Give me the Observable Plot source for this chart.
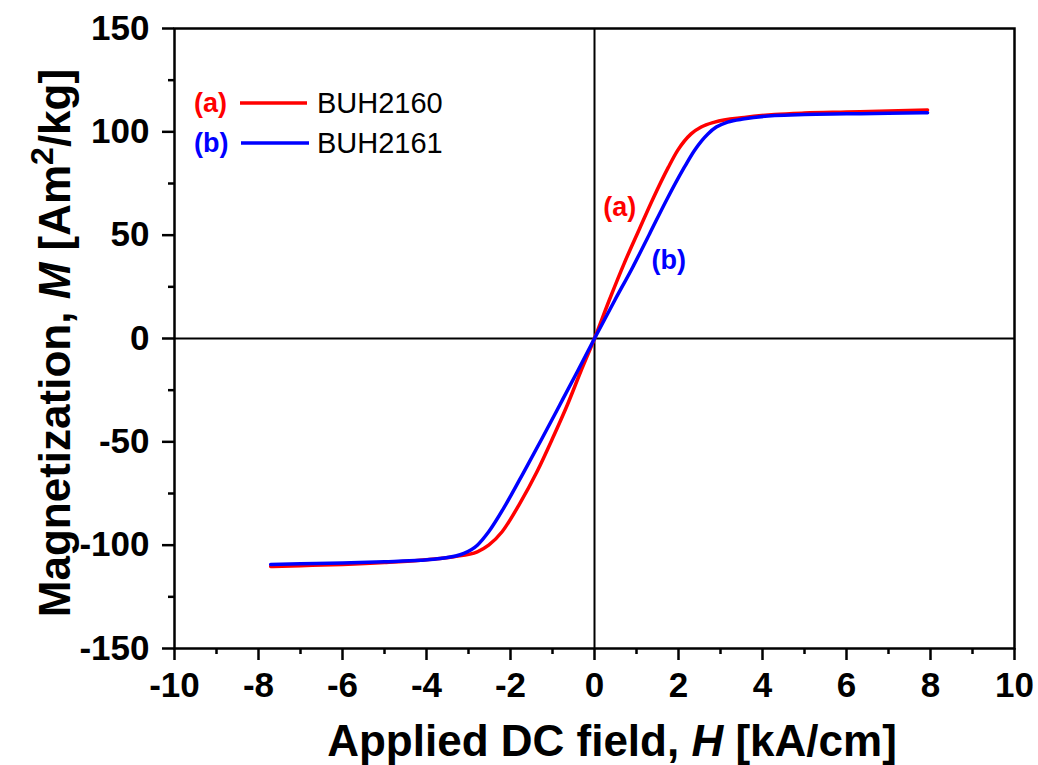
<!DOCTYPE html>
<html>
<head>
<meta charset="utf-8">
<script src="https://cdn.jsdelivr.net/npm/d3@7"></script>
<script src="https://cdn.jsdelivr.net/npm/@observablehq/plot@0.6"></script>
<style>
  html, body { margin: 0; padding: 0; background: #fff; }
  #chart svg { display: block; }
</style>
</head>
<body>
<div id="chart"></div>
<script>
// Series (a) BUH2160
const hA = [-7.71,-7,-6,-5,-4.14,-3.35,-2.79,-2.52,-2.2,-1.8,-1.37,-1.0,-0.65,-0.33,0,0.36,0.71,1.07,1.39,1.76,1.98,2.3,2.54,2.86,3.57,4.29,5,6,7,7.93];
const mA = [-110.3,-109.9,-109.3,-108.4,-107.3,-105.6,-103.2,-100,-93.5,-80.6,-64.5,-48.4,-32.3,-16.1,0,19,36.5,53,67.5,82.9,91,99,102.3,104.7,107,108.4,109.1,109.6,110.1,110.6];
// Series (b) BUH2161
const hB = [-7.71,-7,-6,-5,-4.14,-3.67,-3.11,-2.79,-2.52,-2.12,-1.68,-1.25,-0.83,-0.41,0,0.48,0.91,1.31,1.71,2.14,2.38,2.7,2.9,3.17,3.57,4.29,5,6,7,7.93];
const mB = [-109.3,-109,-108.6,-108,-107.3,-106.5,-104,-100,-93.5,-80.6,-64.5,-48.4,-32.3,-16.1,0,18.4,34.5,50.6,66.8,82.9,91,99,102.3,104.7,106.3,107.9,108.4,108.7,109,109.2];

const seriesNames = ["BUH2160", "BUH2161"];
const seriesTags = ["(a)", "(b)"];
const seriesColors = ["#ff0000", "#0000ff"];

const xMajor = [-10,-8,-6,-4,-2,0,2,4,6,8,10];
const xMinor = [-9,-7,-5,-3,-1,1,3,5,7,9];
const yMajor = [-150,-100,-50,0,50,100,150];
const yMinor = [-125,-75,-25,25,75,125];

// inline label positions (data coords)
const tagX = [0.6, 1.77];
const tagY = [63.5, 38];

const dataA = hA.map((h, i) => ({h, m: mA[i]}));
const dataB = hB.map((h, i) => ({h, m: mB[i]}));
const tags = seriesTags.map((t, i) => ({t, x: tagX[i], y: tagY[i], c: seriesColors[i]}));

const FONT = "'Liberation Sans', Arial, Helvetica, sans-serif";

const plot = Plot.plot({
  width: 1038,
  height: 765,
  marginLeft: 174,
  marginRight: 24,
  marginTop: 28,
  marginBottom: 117,
  style: {fontFamily: FONT, background: "#fff", color: "#000"},
  x: {domain: [-10, 10]},
  y: {domain: [-150, 150]},
  marks: [
    Plot.ruleX([0], {stroke: "#000", strokeWidth: 2}),
    Plot.ruleY([0], {stroke: "#000", strokeWidth: 2}),
    Plot.line(dataA, {x: "h", y: "m", stroke: seriesColors[0], strokeWidth: 3.5, curve: "monotone-x"}),
    Plot.line(dataB, {x: "h", y: "m", stroke: seriesColors[1], strokeWidth: 3.5, curve: "monotone-x"}),
    Plot.text(tags, {x: "x", y: "y", text: "t", fill: "c", fontSize: 27, fontWeight: "bold", fontFamily: FONT}),
    Plot.frame({stroke: "#000", strokeWidth: 2.5}),
    Plot.axisX({ticks: xMajor, tickSize: 12, tickPadding: 12, strokeWidth: 2.5, fontSize: 35, fontWeight: "bold", fontFamily: FONT, label: null, tickFormat: d => String(d)}),
    Plot.axisX({ticks: xMinor, tickSize: 6, strokeWidth: 2.5, tickFormat: () => "", label: null}),
    Plot.axisY({ticks: yMajor, tickSize: 12, tickPadding: 13, strokeWidth: 2.5, fontSize: 35, fontWeight: "bold", fontFamily: FONT, label: null, tickFormat: d => String(d)}),
    Plot.axisY({ticks: yMinor, tickSize: 6, strokeWidth: 2.5, tickFormat: () => "", label: null})
  ]
});

document.getElementById("chart").appendChild(plot);

const svg = d3.select(plot);

// x axis title
const xt = svg.append("text")
  .attr("x", 612).attr("y", 756)
  .attr("text-anchor", "middle")
  .attr("font-family", FONT).attr("font-size", 44).attr("font-weight", "bold")
  .attr("fill", "#000");
xt.append("tspan").text("Applied DC field, ");
xt.append("tspan").attr("font-style", "italic").text("H");
xt.append("tspan").text(" [kA/cm]");

// y axis title
const yt = svg.append("text")
  .attr("transform", "translate(70,343) rotate(-90)")
  .attr("text-anchor", "middle")
  .attr("font-family", FONT).attr("font-size", 44).attr("font-weight", "bold")
  .attr("fill", "#000");
yt.append("tspan").text("Magnetization, ");
yt.append("tspan").attr("font-style", "italic").text("M");
yt.append("tspan").text(" [Am");
yt.append("tspan").attr("dy", -17).attr("font-size", 32).text("2");
yt.append("tspan").attr("dy", 17).text("/kg]");

// legend
const legY = [103, 143];
const legLineX = [[240, 307], [241, 309]];
seriesNames.forEach((name, i) => {
  const g = svg.append("g").attr("text-anchor", "start");
  g.append("text").attr("x", 194).attr("y", legY[i] + 9)
    .attr("text-anchor", "start")
    .attr("font-family", FONT).attr("font-size", 27).attr("font-weight", "bold")
    .attr("fill", seriesColors[i]).text(seriesTags[i]);
  g.append("line").attr("x1", legLineX[i][0]).attr("x2", legLineX[i][1])
    .attr("y1", legY[i]).attr("y2", legY[i])
    .attr("stroke", seriesColors[i]).attr("stroke-width", 3.5);
  g.append("text").attr("x", 317).attr("y", legY[i] + 10)
    .attr("text-anchor", "start")
    .attr("font-family", FONT).attr("font-size", 29)
    .attr("fill", "#000").text(name);
});
</script>
</body>
</html>
